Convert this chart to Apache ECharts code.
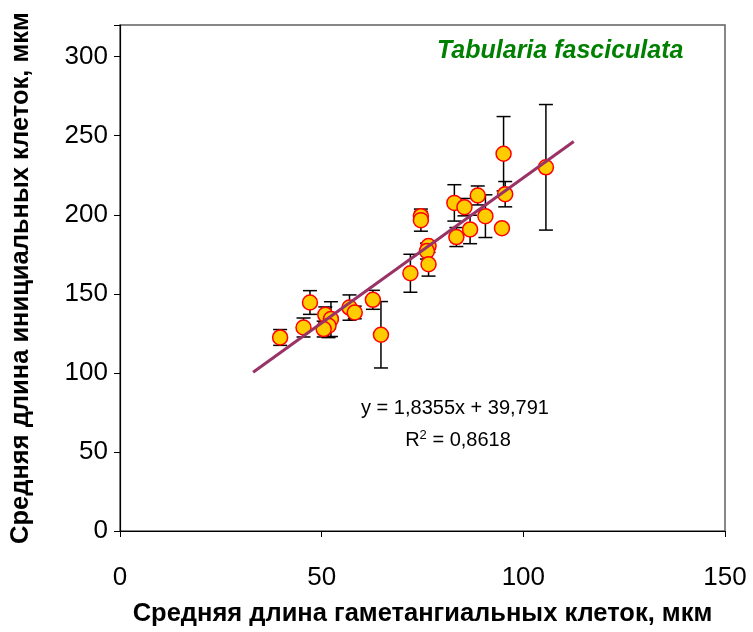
<!DOCTYPE html>
<html>
<head>
<meta charset="utf-8">
<script src="https://cdn.jsdelivr.net/npm/echarts@6/dist/echarts.min.js"></script>
<style>html,body{margin:0;padding:0;background:#fff;}#c{width:753px;height:632px;}</style>
</head>
<body>
<div id="c"></div>
<script>
// Data
var xValues = [39.7, 45.5, 47.1, 50.9, 52.3, 51.7, 50.5, 56.9, 58.2, 62.7, 64.7, 74.6, 74.6, 72.0, 76.5, 76.1, 76.5, 82.9, 85.4, 88.7, 95.5, 90.6, 86.8, 83.4, 94.7, 95.1, 105.6];
var yValues = [122.4, 128.7, 144.5, 136.7, 134.0, 129.8, 127.7, 141.3, 138.2, 146.2, 124.1, 199.1, 196.6, 163.0, 180.2, 177.0, 168.7, 207.5, 204.8, 212.2, 213.0, 199.1, 190.7, 185.9, 191.5, 238.6, 230.0];
var yErrors = [5, 6, 7.5, 5, 11, 7.5, 5, 8, 4, 6, 21, 3, 7, 12, 2, 5, 7.5, 11.5, 5.5, 6, 8, 13.5, 9, 6, 1, 23.5, 39.7];
var trendSlope = 1.8355;
var trendIntercept = 39.791;
var trendRange = [33, 112.5];
var xTicks = [0, 50, 100, 150];
var yTicks = [0, 50, 100, 150, 200, 250, 300];
var titleText = 'Tabularia fasciculata';
var eqText = 'y = 1,8355x + 39,791';
var r2Text = 'R{sup|2} = 0,8618';
var xTitle = 'Средняя длина гаметангиальных клеток, мкм';
var yTitle = 'Средняя длина инициальных клеток, мкм';

var points = xValues.map(function (x, i) { return [x, yValues[i]]; });
var errData = xValues.map(function (x, i) { return [x, yValues[i] - yErrors[i], yValues[i] + yErrors[i]]; });
var trendData = trendRange.map(function (x) { return [x, trendSlope * x + trendIntercept]; });

var chart = echarts.init(document.getElementById('c'));
var font = 'Liberation Sans, Arial, sans-serif';
chart.setOption({
  animation: false,
  backgroundColor: '#ffffff',
  grid: { left: 120, right: 28, top: 25, bottom: 101, show: true, borderColor: '#606060', borderWidth: 1.5,
    backgroundColor: 'transparent', outerBoundsMode: 'none', containLabel: false },
  xAxis: {
    type: 'value', min: 0, max: 150, interval: 50,
    name: xTitle, nameLocation: 'middle', nameGap: 70,
    nameTextStyle: { fontFamily: font, fontWeight: 'bold', fontSize: 25.5, color: '#000' },
    axisLine: { show: true, onZero: false, lineStyle: { color: '#000', width: 1.2 } },
    axisTick: { show: true, inside: false, length: 6, lineStyle: { color: '#000' } },
    axisLabel: { margin: 34, fontFamily: font, fontSize: 26, color: '#000', hideOverlap: false,
      formatter: function (v) { return xTicks.indexOf(v) >= 0 ? String(v) : ''; } },
    splitLine: { show: false }
  },
  yAxis: {
    type: 'value', min: 0, max: 320, interval: 50,
    name: yTitle, nameLocation: 'middle', nameGap: 86, nameRotate: 90,
    nameTextStyle: { fontFamily: font, fontWeight: 'bold', fontSize: 25.5, color: '#000' },
    axisLine: { show: true, onZero: false, lineStyle: { color: '#000', width: 1.2 } },
    axisTick: { show: true, inside: false, length: 6, lineStyle: { color: '#000' } },
    axisLabel: { margin: 12, fontFamily: font, fontSize: 26, color: '#000', hideOverlap: false,
      formatter: function (v) { return yTicks.indexOf(v) >= 0 ? String(v) : ''; } },
    splitLine: { show: false }
  },
  graphic: [
    { type: 'text', left: 437, top: 39, style: { text: titleText, fill: '#008000', font: 'italic bold 25px ' + font } },
    { type: 'text', x: 455, y: 408, style: { text: eqText, fill: '#000', font: '20px ' + font, align: 'center', verticalAlign: 'middle' } },
    { type: 'text', x: 458, y: 440, style: { text: r2Text, fill: '#000', font: '20px ' + font, align: 'center', verticalAlign: 'middle',
      rich: { sup: { fontSize: 13, verticalAlign: 'top', padding: [0, 0, 10, 0], fontFamily: font } } } }
  ],
  series: [
    {
      type: 'custom', z: 2, data: errData,
      renderItem: function (params, api) {
        var x = api.value(0);
        var lo = api.coord([x, api.value(1)]);
        var hi = api.coord([x, api.value(2)]);
        var w = 7;
        var st = { stroke: '#000', lineWidth: 1.5 };
        return { type: 'group', children: [
          { type: 'line', shape: { x1: lo[0], y1: lo[1], x2: hi[0], y2: hi[1] }, style: st },
          { type: 'line', shape: { x1: lo[0] - w, y1: lo[1], x2: lo[0] + w, y2: lo[1] }, style: st },
          { type: 'line', shape: { x1: hi[0] - w, y1: hi[1], x2: hi[0] + w, y2: hi[1] }, style: st }
        ] };
      }
    },
    {
      type: 'scatter', z: 3, data: points, symbol: 'circle', symbolSize: 15,
      itemStyle: { color: '#FFCC00', borderColor: '#FF0000', borderWidth: 1.5, opacity: 1 }
    },
    {
      type: 'line', z: 4, data: trendData, symbol: 'none',
      lineStyle: { color: '#993366', width: 3 }
    }
  ]
});
</script>
</body>
</html>
